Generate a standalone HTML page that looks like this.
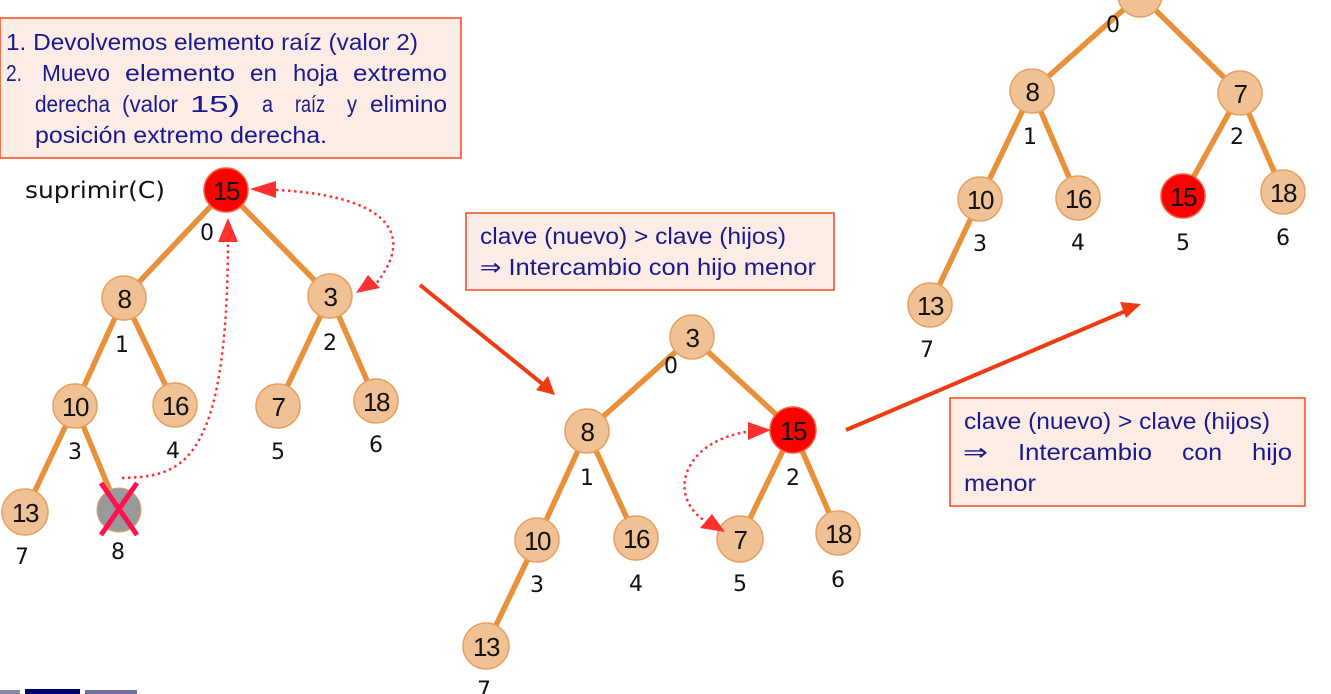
<!DOCTYPE html>
<html><head><meta charset="utf-8"><style>
html,body{margin:0;padding:0;background:#fff;width:1331px;height:694px;overflow:hidden}
svg{display:block}
.n{fill:#f0c194;stroke:#e8a060;stroke-width:1.5}
.r{fill:#ff0000;stroke:#ee6040;stroke-width:1.5}
.v{font-family:"Liberation Sans","DejaVu Sans",sans-serif;font-size:26px;fill:#111;text-anchor:middle;letter-spacing:-1.5px}
.l{font-family:"DejaVu Sans","Liberation Sans",sans-serif;font-size:22px;fill:#111;text-anchor:middle}
.e{stroke:#e8913a;stroke-width:5.5;fill:none}
.t{font-family:"Liberation Sans",sans-serif;font-size:23px;fill:#1a1a8c}
.b{fill:#fbece6;stroke:#f04a1e;stroke-width:1.5}
.d{stroke:#ff3030;stroke-width:2.5;stroke-dasharray:2.5 3.5;fill:none}
</style></head><body>
<svg width="1331" height="694" viewBox="0 0 1331 694">
<rect class="b" x="0" y="18" width="461" height="140"/>
<text class="t" x="6" y="50" textLength="412" lengthAdjust="spacingAndGlyphs">1. Devolvemos elemento raíz (valor 2)</text>
<text class="t" x="6" y="81" textLength="16" lengthAdjust="spacingAndGlyphs">2.</text>
<text class="t" x="42" y="81" textLength="68" lengthAdjust="spacingAndGlyphs">Muevo</text>
<text class="t" x="125" y="81" textLength="110" lengthAdjust="spacingAndGlyphs">elemento</text>
<text class="t" x="250" y="81" textLength="27" lengthAdjust="spacingAndGlyphs">en</text>
<text class="t" x="293" y="81" textLength="45" lengthAdjust="spacingAndGlyphs">hoja</text>
<text class="t" x="353" y="81" textLength="94" lengthAdjust="spacingAndGlyphs">extremo</text>
<text class="t" x="35" y="112" textLength="75" lengthAdjust="spacingAndGlyphs">derecha</text>
<text class="t" x="122" y="112" textLength="56" lengthAdjust="spacingAndGlyphs">(valor</text>
<text class="t" x="190" y="112" textLength="50" lengthAdjust="spacingAndGlyphs">15)</text>
<text class="t" x="262" y="112" textLength="11" lengthAdjust="spacingAndGlyphs">a</text>
<text class="t" x="295" y="112" textLength="30" lengthAdjust="spacingAndGlyphs">raíz</text>
<text class="t" x="347" y="112" textLength="10" lengthAdjust="spacingAndGlyphs">y</text>
<text class="t" x="370" y="112" textLength="77" lengthAdjust="spacingAndGlyphs">elimino</text>
<text class="t" x="35" y="143" textLength="292" lengthAdjust="spacingAndGlyphs">posición extremo derecha.</text>
<rect class="b" x="466" y="213" width="368" height="77"/>
<text class="t" x="480" y="244" textLength="306" lengthAdjust="spacingAndGlyphs">clave (nuevo) &gt; clave (hijos)</text>
<text class="t" x="480" y="275" textLength="336" lengthAdjust="spacingAndGlyphs">⇒ Intercambio con hijo menor</text>
<rect class="b" x="950" y="398" width="355" height="108"/>
<text class="t" x="964" y="429" textLength="306" lengthAdjust="spacingAndGlyphs">clave (nuevo) &gt; clave (hijos)</text>
<text class="t" x="963" y="460" textLength="25" lengthAdjust="spacingAndGlyphs">⇒</text>
<text class="t" x="1018" y="460" textLength="134" lengthAdjust="spacingAndGlyphs">Intercambio</text>
<text class="t" x="1182" y="460" textLength="40" lengthAdjust="spacingAndGlyphs">con</text>
<text class="t" x="1252" y="460" textLength="40" lengthAdjust="spacingAndGlyphs">hijo</text>
<text class="t" x="964" y="491" textLength="72" lengthAdjust="spacingAndGlyphs">menor</text>

<text x="25" y="198" style="font-family:'DejaVu Sans',sans-serif;font-size:23px;fill:#111" textLength="140" lengthAdjust="spacingAndGlyphs">suprimir(C)</text>

<line x1="420" y1="285" x2="545" y2="386" stroke="#f03a10" stroke-width="4"/>
<path d="M555,395 L536,390 L548,376z" fill="#f03a10"/>
<line x1="846" y1="430" x2="1128" y2="310" stroke="#f03a10" stroke-width="4"/>
<path d="M1141,304 L1126,318 L1120,302z" fill="#f03a10"/>

<path class="e" d="M226,190L124,298M226,190L330,296M124,298L75,406M124,298L175,405M330,296L278,406M330,296L376,401M75,406L25,512M75,406L118,510"/>
<path class="e" d="M692,337L587,431M692,337L793,430M587,431L537,540M587,431L636,538M793,430L740,539M793,430L838,533M537,540L486,646"/>
<path class="e" d="M1140,-5L1032,91M1140,-5L1240,93M1032,91L980,199M1032,91L1078,198M1240,93L1183,196M1240,93L1283,192M980,199L930,305"/>

<circle class="r" cx="226" cy="190" r="22"/><text class="v" x="226" y="200">15</text><text class="l" x="207" y="240">0</text>
<circle class="n" cx="124" cy="298" r="22"/><text class="v" x="124" y="308">8</text><text class="l" x="122" y="352">1</text>
<circle class="n" cx="330" cy="296" r="22"/><text class="v" x="330" y="306">3</text><text class="l" x="330" y="350">2</text>
<circle class="n" cx="75" cy="406" r="22"/><text class="v" x="75" y="416">10</text><text class="l" x="75" y="459">3</text>
<circle class="n" cx="175" cy="405" r="22"/><text class="v" x="175" y="415">16</text><text class="l" x="173" y="458">4</text>
<circle class="n" cx="278" cy="406" r="22"/><text class="v" x="278" y="416">7</text><text class="l" x="278" y="459">5</text>
<circle class="n" cx="376" cy="401" r="22"/><text class="v" x="376" y="411">18</text><text class="l" x="376" y="452">6</text>
<circle class="n" cx="25" cy="512" r="23"/><text class="v" x="25" y="522">13</text><text class="l" x="22" y="564">7</text>
<circle cx="119" cy="510" r="22" fill="#999" stroke="#e8a060" stroke-width="1"/>
<path d="M101,483L137,535M137,483L101,535" stroke="#ff1050" stroke-width="5"/>
<text class="l" x="118" y="559">8</text>

<circle class="n" cx="692" cy="337" r="22"/><text class="v" x="692" y="347">3</text><text class="l" x="671" y="373">0</text>
<circle class="n" cx="587" cy="431" r="22"/><text class="v" x="587" y="441">8</text><text class="l" x="587" y="485">1</text>
<circle class="r" cx="793" cy="430" r="23"/><text class="v" x="793" y="440">15</text><text class="l" x="793" y="485">2</text>
<circle class="n" cx="537" cy="540" r="22"/><text class="v" x="537" y="550">10</text><text class="l" x="537" y="592">3</text>
<circle class="n" cx="636" cy="538" r="22"/><text class="v" x="636" y="548">16</text><text class="l" x="636" y="591">4</text>
<circle class="n" cx="740" cy="539" r="23"/><text class="v" x="740" y="549">7</text><text class="l" x="740" y="591">5</text>
<circle class="n" cx="838" cy="533" r="22"/><text class="v" x="838" y="543">18</text><text class="l" x="838" y="587">6</text>
<circle class="n" cx="486" cy="646" r="23"/><text class="v" x="486" y="656">13</text><text class="l" x="484" y="697">7</text>

<circle class="n" cx="1140" cy="-5" r="22"/><text class="l" x="1113" y="32">0</text>
<circle class="n" cx="1032" cy="91" r="22"/><text class="v" x="1032" y="101">8</text><text class="l" x="1030" y="144">1</text>
<circle class="n" cx="1240" cy="93" r="22"/><text class="v" x="1240" y="103">7</text><text class="l" x="1237" y="144">2</text>
<circle class="n" cx="980" cy="199" r="22"/><text class="v" x="980" y="209">10</text><text class="l" x="980" y="251">3</text>
<circle class="n" cx="1078" cy="198" r="22"/><text class="v" x="1078" y="208">16</text><text class="l" x="1078" y="250">4</text>
<circle class="r" cx="1183" cy="196" r="22"/><text class="v" x="1183" y="206">15</text><text class="l" x="1183" y="250">5</text>
<circle class="n" cx="1283" cy="192" r="22"/><text class="v" x="1283" y="202">18</text><text class="l" x="1283" y="245">6</text>
<circle class="n" cx="930" cy="305" r="22"/><text class="v" x="930" y="315">13</text><text class="l" x="927" y="357">7</text>

<path class="d" d="M122,478 C180,476 228,470 228,236"/>
<path d="M218,242 L228,218 L238,242z" fill="#ff3030"/>
<path class="d" d="M276,190 C380,195 420,230 375,285"/>
<path d="M250,189 L276,181 L276,198z" fill="#ff3030"/>
<path d="M356,293 L368,275 L380,288z" fill="#ff3030"/>
<path class="d" d="M752,431 C680,440 665,500 710,524"/>
<path d="M771,430 L748,422 L748,440z" fill="#ff3030"/>
<path d="M725,532 L700,528 L712,514z" fill="#ff3030"/>

<rect x="0" y="690" width="20" height="4" fill="#8888aa"/>
<rect x="25" y="689" width="55" height="5" fill="#000070"/>
<rect x="85" y="690" width="52" height="4" fill="#7070a0"/>
</svg>
</body></html>
